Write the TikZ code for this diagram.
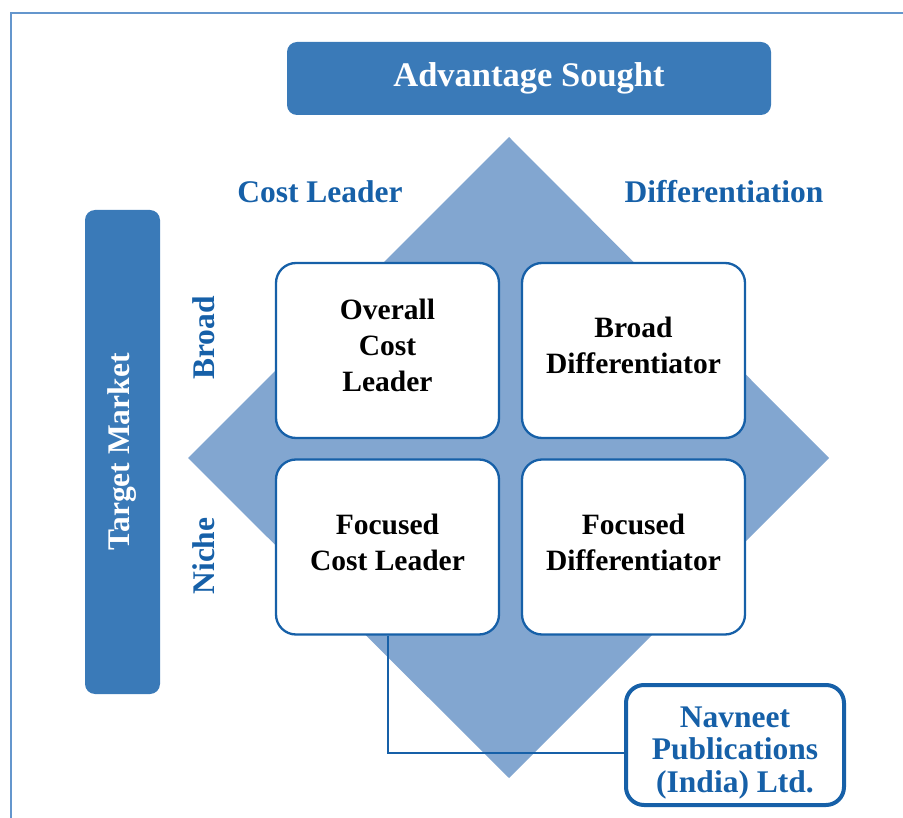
\documentclass[tikz,border=0pt]{standalone}
\usepackage{fontspec}
\setmainfont{Liberation Serif}
\usepackage{tikz}
\usetikzlibrary{calc,positioning}
\definecolor{barblue}{RGB}{58,122,184}
\definecolor{diamblue}{RGB}{130,166,208}
\definecolor{txtblue}{RGB}{22,96,168}
\definecolor{rimblue}{RGB}{100,150,205}

\begin{document}
\begin{tikzpicture}[x=1pt,y=-1pt,
  bar/.style={fill=barblue,rounded corners=10pt,text=white,font=\fontsize{34.5}{40}\selectfont\bfseries},
  axis/.style={text=txtblue,font=\fontsize{31.5}{36}\selectfont\bfseries},
  cell/.style={draw=txtblue,line width=2.3pt,fill=white,rounded corners=20pt,minimum width=223pt,minimum height=175pt,align=center,text depth=10pt,font=\fontsize{29.5}{36}\selectfont\bfseries},
  firm/.style={draw=txtblue,line width=4pt,fill=white,rounded corners=18pt,minimum width=218pt,minimum height=120pt,align=center,text height=94pt,text depth=0pt,text=txtblue,font=\fontsize{31.5}{32.5}\selectfont\bfseries}]
\useasboundingbox (0,0) rectangle (903,818);
% outer frame
\draw[rimblue,line width=1.5pt] (11,818) -- (11,13) -- (903,13);
% headers
\node[bar,minimum width=484pt,minimum height=73pt] (sought) at (529,78.5) {Advantage Sought};
\node[bar,minimum width=75pt,minimum height=484pt] (market) at (122.5,452) {};
\node[rotate=90,text=white,font=\fontsize{31.5}{36}\selectfont\bfseries] (markettext) at (market) {Target Market};
\node[axis] (cost) at (320,192) {Cost Leader};
\node[axis] (diff) at (724,192) {Differentiation};
\node[axis,rotate=90] (broad) at (204,338) {Broad};
\node[axis,rotate=90] (niche) at (204,556) {Niche};
% the diamond
\fill[diamblue] (509,137) coordinate(T) -- (829,458) coordinate(R) -- (509,778) coordinate(B) -- (188,458) coordinate(L) -- cycle;
% four strategies
\node[cell] (ocl) at (387.5,350.5) {Overall\\Cost\\Leader};
\node[cell] (bd) at (633.5,350.5) {Broad\\Differentiator};
\node[cell] (fcl) at (387.5,547) {Focused\\Cost Leader};
\node[cell] (fd) at (633.5,547) {Focused\\Differentiator};
% the firm
\node[firm] (nav) at (735,745) {Navneet\\Publications\\(India) Ltd.};
\draw[txtblue,line width=2pt] (fcl.south) |- ([yshift=-7.5pt]nav.west);
\end{tikzpicture}
\end{document}
